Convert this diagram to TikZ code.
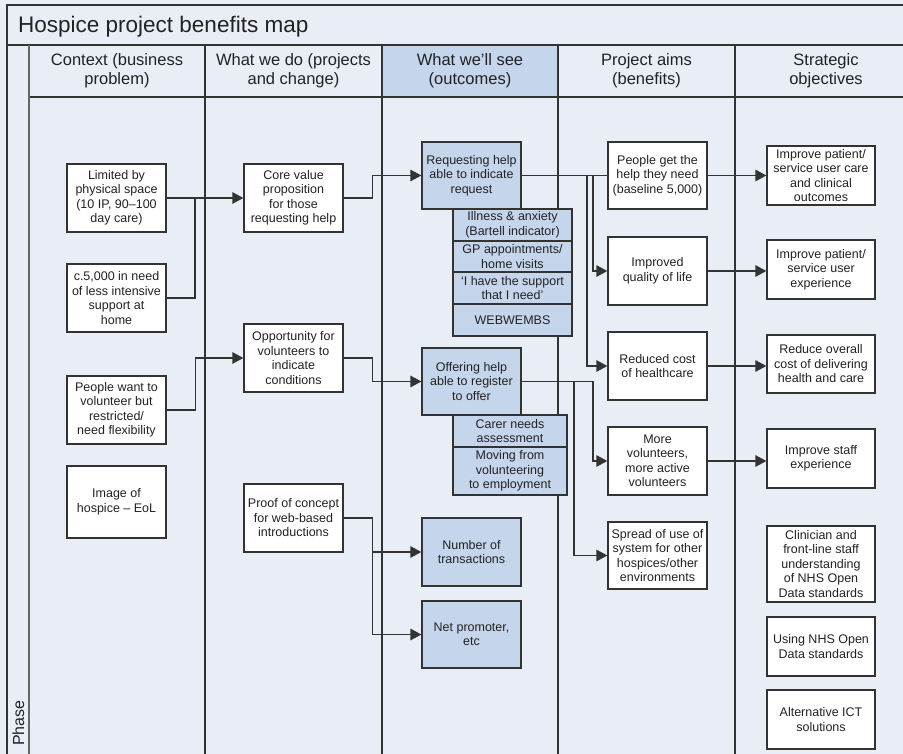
\documentclass[tikz,border=0pt]{standalone}
\usepackage{fontspec}
\setmainfont{Liberation Sans}
\usetikzlibrary{arrows.meta}
\definecolor{pagebg}{HTML}{E8EDF6}
\definecolor{outcome}{HTML}{C5D5EC}
\definecolor{ink}{HTML}{333333}
\definecolor{txt}{HTML}{222222}

\begin{document}
\begin{tikzpicture}[x=1pt,y=-1pt,
  grid/.style={draw=ink, line width=1.3pt},
  box/.style={draw=ink, line width=1.3pt, fill=white, align=center, inner sep=1pt,
    font=\fontsize{12.5}{14.5}\selectfont, text=txt},
  obox/.style={box, fill=outcome},
  sz/.style 2 args={minimum width=#1pt, minimum height=#2pt},
  wire/.style={draw=ink, line width=1.3pt},
  arr/.style={wire, -{Triangle[length=11pt,width=11.5pt]}},
  hdr/.style={align=center, font=\fontsize{16.5}{19}\selectfont, text=txt},
]
\useasboundingbox (0,0) rectangle (903,754);
\clip (0,0) rectangle (903,754);
\fill[pagebg] (0,0) rectangle (903,754);

% ---------- frame, title row, header row, columns ----------
\fill[outcome] (382,45) rectangle (558,97);
\draw[grid] (7,760) -- (7,5) -- (920,5);
\draw[grid] (7,45) -- (920,45);
\draw[grid] (29,97) -- (920,97);
\draw[grid, draw=black!60, line width=1.6pt] (29,45) -- (29,760);
\foreach \cx in {205,382,558,735} \draw[grid] (\cx,45) -- (\cx,760);

\node[anchor=base west, inner sep=0, font=\fontsize{22.5}{26}\selectfont, text=txt] (title) at (18,33) {Hospice project benefits map};
\node[anchor=base west, inner sep=0, rotate=90, font=\fontsize{16}{19}\selectfont, text=txt] (phase) at (24,746) {Phase};

\node[hdr] (h1) at (117,71) {Context (business\\problem)};
\node[hdr] (h2) at (293.5,71) {What we do (projects\\and change)};
\node[hdr] (h3) at (470,71) {What we’ll see\\(outcomes)};
\node[hdr] (h4) at (646.5,71) {Project aims\\(benefits)};
\node[hdr] (h5) at (826,71) {Strategic\\objectives};

% ---------- context ----------
\node[box, sz={99}{68}] (lim) at (116.5,198) {Limited by\\physical space\\(10 IP, 90–100\\day care)};
\node[box, sz={99}{68}] (c5) at (116.5,298) {c.5,000 in need\\of less intensive\\support at\\home};
\node[box, sz={99}{68}] (pw) at (116.5,410) {People want to\\volunteer but\\restricted/\\need flexibility};
\node[box, sz={99}{72}] (img) at (116.5,502) {Image of\\hospice – EoL};

% ---------- what we do ----------
\node[box, sz={99}{68}] (core) at (293.5,198) {Core value\\proposition\\for those\\requesting help};
\node[box, sz={99}{68}] (opp) at (293.5,358) {Opportunity for\\volunteers to\\indicate\\conditions};
\node[box, sz={99}{68}] (proof) at (293.5,518) {Proof of concept\\for web-based\\introductions};

% ---------- outcomes ----------
\node[obox, sz={99}{67}] (req) at (471.5,175.5) {Requesting help\\able to indicate\\request};
\node[obox, sz={119}{32}] (s1) at (512.5,225) {Illness \& anxiety\\(Bartell indicator)};
\node[obox, sz={119}{31}] (s2) at (512.5,256.5) {GP appointments/\\home visits};
\node[obox, sz={119}{32}] (s3) at (512.5,288) {‘I have the support\\that I need’};
\node[obox, sz={119}{32}] (s4) at (512.5,320) {WEBWEMBS};
\node[obox, sz={99}{67}] (off) at (471.5,381.5) {Offering help\\able to register\\to offer};
\node[obox, sz={114}{32}] (t1) at (510,431) {Carer needs\\assessment};
\node[obox, sz={114}{48}] (t2) at (510,471) {Moving from\\volunteering\\to employment};
\node[obox, sz={99}{68}] (num) at (471.5,552) {Number of\\transactions};
\node[obox, sz={99}{67}] (net) at (471.5,634.5) {Net promoter,\\etc};

% ---------- project aims ----------
\node[box, sz={99}{67}] (pg) at (657.5,175.5) {People get the\\help they need\\(baseline 5,000)};
\node[box, sz={99}{68}] (iq) at (657.5,271) {Improved\\quality of life};
\node[box, sz={99}{68}] (rc) at (657.5,366) {Reduced cost\\of healthcare};
\node[box, sz={99}{68}] (mv) at (657.5,461) {More\\volunteers,\\more active\\volunteers};
\node[box, sz={99}{67}] (sp) at (657.5,555.5) {Spread of use of\\system for other\\hospices/other\\environments};

% ---------- strategic objectives ----------
\node[box, sz={108}{59}] (ipc) at (821,175.5) {Improve patient/\\service user care\\and clinical\\outcomes};
\node[box, sz={108}{59}] (ipe) at (821,269.5) {Improve patient/\\service user\\experience};
\node[box, sz={108}{58}] (roc) at (821,364) {Reduce overall\\cost of delivering\\health and care};
\node[box, sz={108}{59}] (ise) at (821,458.5) {Improve staff\\experience};
\node[box, sz={108}{76}] (cli) at (821,564) {Clinician and\\front-line staff\\understanding\\of NHS Open\\Data standards};
\node[box, sz={108}{59}] (nhs) at (821,646.5) {Using NHS Open\\Data standards};
\node[box, sz={108}{59}] (ict) at (821,719.5) {Alternative ICT\\solutions};

% ---------- junction points ----------
\coordinate (j1) at (195,198);
\coordinate (b1) at (587,175.5);
\coordinate (b2) at (593,175.5);
\coordinate (b4) at (574,381.5);

% ---------- connectors ----------
\draw[arr] (lim.east) -- (core.west);
\draw[wire] (c5.east) -| (j1);
\draw[arr] (core.east) -- ++(29,0) |- (req.west);
\draw[arr] (pw.east) -- ++(29,0) |- (opp.west);
\draw[arr] (opp.east) -- ++(29,0) |- (off.west);
\draw[arr] (proof.east) -- ++(29,0) |- (num.west);
\draw[arr] (proof.east) -- ++(29,0) |- (net.west);

\draw[wire] (req.east) -- (pg.west);
\draw[arr] (b2) |- (iq.west);
\draw[arr] (b1) |- (rc.west);
\draw[arr] (off.east) -- (off.east -| b2) |- (mv.west);
\draw[arr] (b4) |- (sp.west);

\draw[arr] (pg.east) -- (pg.east -| ipc.west);
\draw[arr] (iq.east) -- (iq.east -| ipe.west);
\draw[arr] (rc.east) -- (rc.east -| roc.west);
\draw[arr] (mv.east) -- (mv.east -| ise.west);
\end{tikzpicture}
\end{document}
